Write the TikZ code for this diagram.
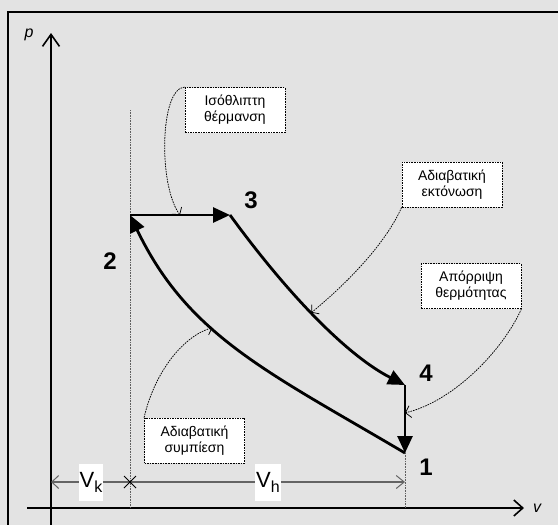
\documentclass[tikz,border=0pt]{standalone}
\usepackage{fontspec}
\setmainfont{Liberation Sans}
\usetikzlibrary{arrows.meta,calc}
\definecolor{bg}{RGB}{227,227,227}
\definecolor{dimcol}{RGB}{100,100,100}
\definecolor{dotcol}{RGB}{95,95,95}
\begin{document}
\begin{tikzpicture}[x=1pt,y=-1pt,
  cyc/.style={line width=2.8pt},
  bigtip/.style={-{Triangle[length=17pt,width=15pt]}},
  note/.style={draw=black, dash pattern=on 1.6pt off 1pt, line width=0.8pt, fill=white,
    minimum width=100pt, minimum height=45pt, inner sep=0pt, align=center,
    font=\fontsize{14}{16}\selectfont},
  lead/.style={black, dash pattern=on 1.6pt off 1pt, line width=0.75pt,
    -{Straight Barb[length=5pt,width=12pt,line width=0.75pt]}},
  num/.style={font=\fontsize{24}{24}\selectfont\bfseries, inner sep=0pt},
  axis/.style={line width=1.9pt},
  guide/.style={dotcol, line width=0.8pt, dash pattern=on 0.8pt off 0.8pt},
  dimline/.style={dimcol, line width=1.3pt},
  dimlab/.style={fill=white, inner sep=0pt, minimum height=37pt}]
% background and frame
\fill[bg] (0,0) rectangle (558,525);
\useasboundingbox (0,0) rectangle (558,525);
\draw[line width=2.5pt] (8,526) -- (8,12) -- (559,12);
% coordinates
\coordinate (o) at (51,508);
\coordinate (ytop) at (51,33);
\coordinate (ybot) at (51,526);
\coordinate (xl) at (27,508);
\coordinate (xr) at (524,508);
\coordinate (p1) at (405,453);
\coordinate (p2) at (130,215);
\coordinate (p3) at (230,215);
\coordinate (p4) at (405,385);
\coordinate (g2top) at (130,110);
\coordinate (g2bot) at (130,508);
\coordinate (g1bot) at (405,508);
\coordinate (dk) at (51,482);
\coordinate (dx) at (130,482);
\coordinate (dh) at (405,482);
% axes
\draw[axis, -{Straight Barb[length=12pt,width=17pt,line width=1.6pt]}] (ybot) -- (ytop);
\draw[axis, -{Straight Barb[length=9pt,width=16pt,line width=1.6pt]}] (xl) -- (xr);
\node[font=\fontsize{16}{16}\selectfont\itshape] (plab) at (29,35) {p};
\node[font=\fontsize{16}{16}\selectfont\itshape] (vlab) at (537,508) {v};
% guides
\draw[guide] (g2top) -- (g2bot);
\draw[guide] (p1) -- (g1bot);
% dimension lines
\draw[dimline, {Straight Barb[length=7pt,width=13pt,line width=1pt]}-] (dk) -- (dx);
\draw[dimline, -{Straight Barb[length=8pt,width=13pt,line width=1pt]}] (dx) -- (dh);
\draw[line width=0.9pt] ($(dx)+(-6,-6)$) -- ($(dx)+(6,6)$);
\draw[line width=0.9pt] ($(dx)+(-6,6)$) -- ($(dx)+(6,-6)$);
\node[dimlab, minimum width=24pt] (vk) at (91,482.5)
  {\fontsize{22}{22}\selectfont V\raisebox{-5pt}{\fontsize{16}{16}\selectfont k}};
\node[dimlab, minimum width=26pt] (vh) at (268,482.5)
  {\fontsize{22}{22}\selectfont V\raisebox{-5pt}{\fontsize{16}{16}\selectfont h}};
% cycle
\draw[cyc, bigtip] (p2) -- coordinate[pos=0.5] (t1) (p3);
\draw[cyc, bigtip] (p3) .. controls (292,300) and (350,357) .. coordinate[pos=0.45] (t2) (p4);
\draw[cyc, bigtip] (p4) -- coordinate[pos=0.41] (t3) (p1);
\draw[cyc, bigtip] (p1) .. controls (268,372) and (188,336) .. coordinate[pos=0.6] (t4) (p2);
% point numbers
\node[num] (n1) at (426,467) {1};
\node[num] (n2) at (110,261) {2};
\node[num] (n3) at (251,200) {3};
\node[num] (n4) at (426,373) {4};
% notes
\node[note] (b1) at (235,110) {Ισόθλιπτη\\θέρμανση};
\node[note] (b2) at (452,184.5) {Αδιαβατική\\εκτόνωση};
\node[note] (b3) at (471,286) {Απόρριψη\\θερμότητας};
\node[note] (b4) at (194.5,440.5) {Αδιαβατική\\συμπίεση};
% leaders
\draw[lead] (b1.north west) .. controls (160,88) and (158,185) .. (t1);
\draw[lead] (b2.south west) .. controls (385,245) and (345,285) .. (t2);
\draw[lead] (b3.south east) .. controls (502,352) and (452,402) .. (t3);
\draw[lead] (b4.north west) .. controls (155,370) and (185,335) .. (t4);
\end{tikzpicture}
\end{document}
